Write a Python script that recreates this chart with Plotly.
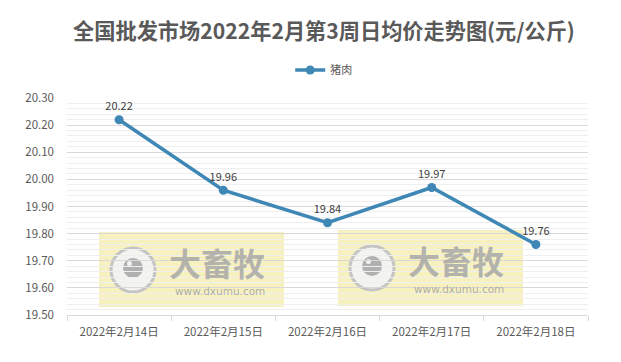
import plotly.graph_objects as go

categories = ["2022年2月14日", "2022年2月15日", "2022年2月16日", "2022年2月17日", "2022年2月18日"]
pork = [20.22, 19.96, 19.84, 19.97, 19.76]
labels = ["20.22", "19.96", "19.84", "19.97", "19.76"]
y_ticks = [19.5, 19.6, 19.7, 19.8, 19.9, 20.0, 20.1, 20.2, 20.3]
y_ticktext = ["%.2f" % v for v in y_ticks]

FONT = "Noto Sans CJK SC, Liberation Sans, sans-serif"
LINE = "#3f87b5"

fig = go.Figure()
fig.add_trace(go.Scatter(
    x=categories, y=pork, mode="lines+markers+text", name="猪肉",
    line=dict(color=LINE, width=3.5),
    marker=dict(color=LINE, size=9),
    text=labels, textposition="top center",
    textfont=dict(size=11, color="#404040", family=FONT),
))

W, H = 621, 362
L, R, T, B = 67, 588, 98, 315
def px(x):
    return (x - L) / (R - L)
def py(y):
    return (B - y) / (B - T)

shapes = []
annotations = []
for (x0, x1, y0, y1) in [(99, 284, 232, 307), (338, 523, 230, 306)]:
    shapes.append(dict(type="rect", xref="paper", yref="paper",
                       x0=px(x0), x1=px(x1), y0=py(y1), y1=py(y0),
                       fillcolor="rgba(244,236,170,0.75)", line=dict(width=0), layer="below"))
    cx, cy = x0 + 34, y0 + 38
    shapes.append(dict(type="circle", xref="paper", yref="paper",
                       x0=px(cx - 22), x1=px(cx + 22), y0=py(cy + 22), y1=py(cy - 22),
                       fillcolor="rgba(242,242,242,0.95)", line=dict(color="#c4c4c4", width=3), layer="below"))
    shapes.append(dict(type="circle", xref="paper", yref="paper",
                       x0=px(cx - 10), x1=px(cx + 10), y0=py(cy + 8), y1=py(cy - 12),
                       fillcolor="#b0b0b0", line=dict(width=0), layer="below"))
    shapes.append(dict(type="circle", xref="paper", yref="paper",
                       x0=px(cx - 6), x1=px(cx - 1), y0=py(cy - 4), y1=py(cy - 9),
                       fillcolor="#f2f2f2", line=dict(width=0), layer="below"))
    annotations.append(dict(xref="paper", yref="paper", x=px(x0 + 118), y=py(y0 + 30),
                            xanchor="center", yanchor="middle",
                            text="<b>大畜牧</b>", showarrow=False,
                            font=dict(size=32, color="rgba(168,168,168,0.85)", family=FONT)))
    annotations.append(dict(xref="paper", yref="paper", x=px(x0 + 121), y=py(y0 + 59),
                            xanchor="center", yanchor="middle",
                            text="www.dxumu.com", showarrow=False,
                            font=dict(size=10.5, color="rgba(168,168,168,0.95)", family="DejaVu Sans")))

fig.update_layout(
    width=W, height=H,
    margin=dict(l=L, r=W - R, t=T, b=H - B, autoexpand=False),
    paper_bgcolor="white", plot_bgcolor="white",
    title=dict(text="<b>全国批发市场2022年2月第3周日均价走势图(元/公斤)</b>",
               x=324 / W, xanchor="center", y=1 - 32 / H, yanchor="middle",
               font=dict(size=21.2, color="#595959", family=FONT)),
    showlegend=True,
    legend=dict(orientation="h", x=306 / W, xanchor="center", y=1 - 70 / H, yanchor="middle",
                yref="container", font=dict(size=11, color="#595959", family=FONT),
                bgcolor="rgba(0,0,0,0)"),
    font=dict(family=FONT, color="#595959"),
    shapes=shapes, annotations=annotations,
)
fig.update_xaxes(
    type="category", tickson="boundaries", ticks="outside", ticklen=5, tickcolor="#d9d9d9",
    showline=True, linecolor="#d9d9d9", linewidth=1, showgrid=False,
    tickfont=dict(size=11.5, color="#595959", family=FONT), ticklabelstandoff=6,
    range=[-0.5, 4.5], automargin=False,
)
fig.update_yaxes(
    range=[19.5, 20.3], tickvals=y_ticks, ticktext=y_ticktext,
    showgrid=True, gridcolor="#d9d9d9", gridwidth=1, zeroline=False, showline=False,
    minor=dict(dtick=0.02, showgrid=True, gridcolor="#efefef", gridwidth=1),
    tickfont=dict(size=11.5, color="#595959", family=FONT), ticklabelstandoff=12,
    automargin=False,
)

fig.write_html("out.html", config={"displayModeBar": False},
               post_script="document.body.style.margin='0';document.body.style.padding='0';")
